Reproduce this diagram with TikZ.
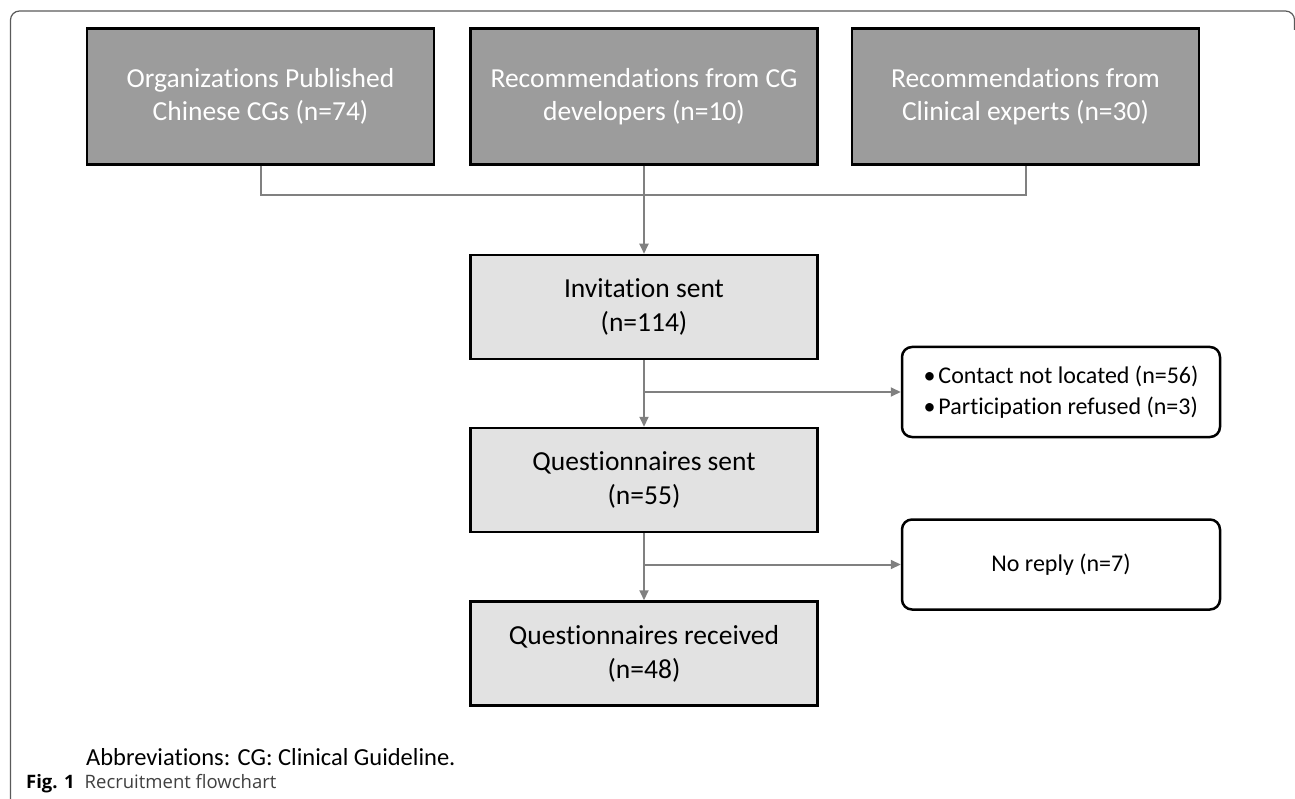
\documentclass[tikz,border=0pt]{standalone}
\usepackage{fontspec}
\setmainfont{Carlito}[Ligatures={NoCommon}]
\newfontfamily\capfont{Open Sans}
\usetikzlibrary{arrows.meta}
\definecolor{darkbox}{HTML}{9C9C9C}
\definecolor{lightbox}{HTML}{E2E2E2}
\definecolor{conn}{HTML}{808080}
\definecolor{framec}{HTML}{5A5A5A}
\definecolor{capgray}{HTML}{404040}
\begin{document}
\begin{tikzpicture}[x=1pt,y=-1pt,
  topbox/.style={draw=black, line width=2.5pt, fill=darkbox, text=white, minimum width=347pt, minimum height=136pt, inner sep=0pt, align=center, font=\fontsize{27.5}{32.5}\selectfont},
  mainbox/.style={draw=black, line width=2.5pt, fill=lightbox, minimum width=347pt, minimum height=104pt, inner sep=0pt, align=center, font=\fontsize{27.5}{34}\selectfont},
  exbox/.style={draw=black, line width=2.5pt, fill=white, rounded corners=10pt, minimum width=318pt, minimum height=90pt, inner sep=0pt, font=\fontsize{24}{31}\selectfont},
  link/.style={draw=conn, line width=2pt},
  arrowlink/.style={link, -{Triangle[length=10pt,width=9pt]}},
  caption/.style={anchor=base west, inner sep=0pt},
]
\useasboundingbox (0,0) rectangle (1295,799);
\draw[framec, line width=1.2pt, rounded corners=9pt] (10.5,799) -- (10.5,11) -- (1294.5,11) -- (1294.5,30);

\node[topbox] (org) at (260.5,96.5) {Organizations Published\\Chinese CGs (n=74)};
\node[topbox] (cgd) at (644,96.5) {Recommendations from CG\\developers (n=10)};
\node[topbox] (cli) at (1025.5,96.5) {Recommendations from\\Clinical experts (n=30)};

\node[mainbox] (inv) at (644,307) {Invitation sent\\(n=114)};
\node[mainbox] (qs) at (644,480) {Questionnaires sent\\(n=55)};
\node[mainbox] (qr) at (644,653.5) {Questionnaires received\\(n=48)};

\node[exbox, align=left] (ex1) at (1061,392) {•\hspace{3pt}Contact not located (n=56)\\•\hspace{3pt}Participation refused (n=3)};
\node[exbox] (ex2) at (1061,564.5) {No reply (n=7)};

\coordinate (join) at (644,195);
\draw[link] (org.south) |- (join) -| (cli.south);
\draw[arrowlink] (cgd.south) -- (inv.north);

\coordinate (br1) at (644,392);
\coordinate (br2) at (644,564.5);
\draw[arrowlink] (inv.south) -- (qs.north);
\draw[arrowlink] (br1) -- (ex1.west);
\draw[arrowlink] (qs.south) -- (qr.north);
\draw[arrowlink] (br2) -- (ex2.west);

\node[caption, font=\fontsize{24.5}{24.5}\selectfont] (abbr) at (86,765) {Abbreviations: CG: Clinical Guideline.};
\node[caption, font=\capfont\fontsize{18.5}{18.5}\selectfont] (fig) at (26,788) {\textbf{Fig. 1}\hspace{10pt}\textcolor{capgray}{Recruitment flowchart}};
\end{tikzpicture}
\end{document}
